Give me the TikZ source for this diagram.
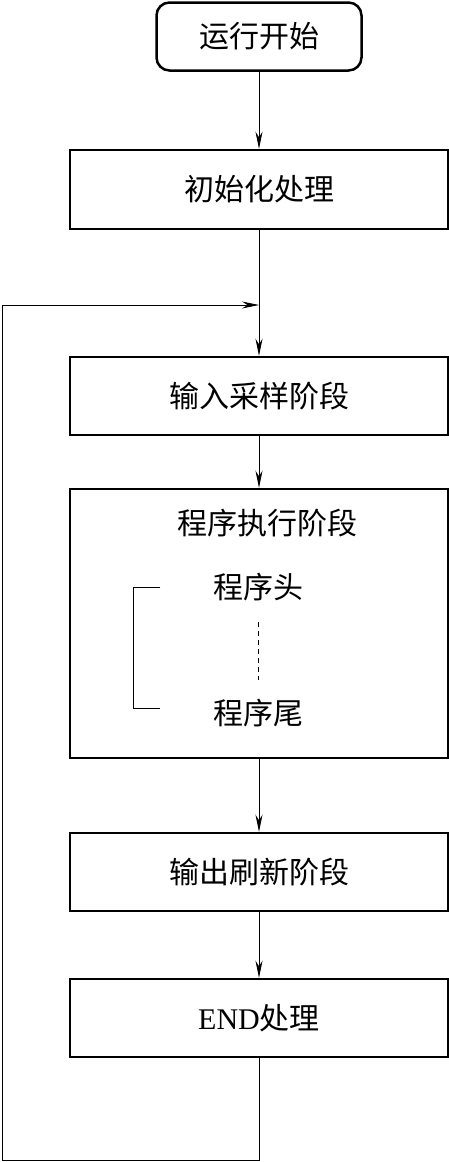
\documentclass[tikz,border=0pt]{standalone}
\usepackage{fontspec}
\setmainfont{Liberation Serif}
\newfontfamily\cjk{Noto Sans CJK SC}
\usetikzlibrary{arrows.meta}
\begin{document}
\begin{tikzpicture}[x=1pt,y=-1pt]
		\tikzstyle{every node}+=[inner sep=0pt, font=\cjk\fontsize{30}{33}\selectfont]
		\tikzstyle{stage}=[draw, line width=2.5pt, minimum width=378pt, minimum height=78pt]
		\tikzstyle{flow}=[line width=0.9pt, -{Stealth[length=17pt,width=7pt]}]
		\useasboundingbox (0,0) rectangle (449,1162);
		\node [draw, line width=2.5pt, rounded corners=13pt, minimum width=205pt, minimum height=68pt] (start) at (259,36.5) {运行开始};
		\node [stage, minimum height=79pt] (init) at (259,189.5) {初始化处理};
		\node [stage] (input) at (259,396) {输入采样阶段};
		\node [stage, minimum height=269pt] (prog) at (259,623.5) {};
		\node (progtitle) at (267,523) {程序执行阶段};
		\node (head) at (258.5,587) {程序头};
		\node (tail) at (258.5,713) {程序尾};
		\node [stage] (output) at (259,872) {输出刷新阶段};
		\node [stage] (endp) at (259,1018) {{\rmfamily END}处理};
		% program bracket and dots
		\draw [line width=0.9pt] ([xshift=-53pt]head.west) -- ++(-27,0) |- ([xshift=-53pt,yshift=5pt]tail.west);
		\coordinate (dtop) at (258,622);
		\coordinate (dbot) at (258,680);
		\draw [line width=0.9pt, dash pattern=on 5pt off 4pt] (dtop) -- (dbot);
		% main flow
		\coordinate (join) at (259,305);
		\draw [flow] (start) -- (init);
		\draw [flow] (init) -- (input);
		\draw [flow] (input) -- (prog);
		\draw [flow] (prog) -- (output);
		\draw [flow] (output) -- (endp);
		% loop back
		\coordinate (loopbl) at (2,1160);
		\coordinate (looptl) at (2,305);
		\draw [flow] (endp.south) |- (loopbl) -- (looptl) -- (join);
	\end{tikzpicture}
\end{document}
